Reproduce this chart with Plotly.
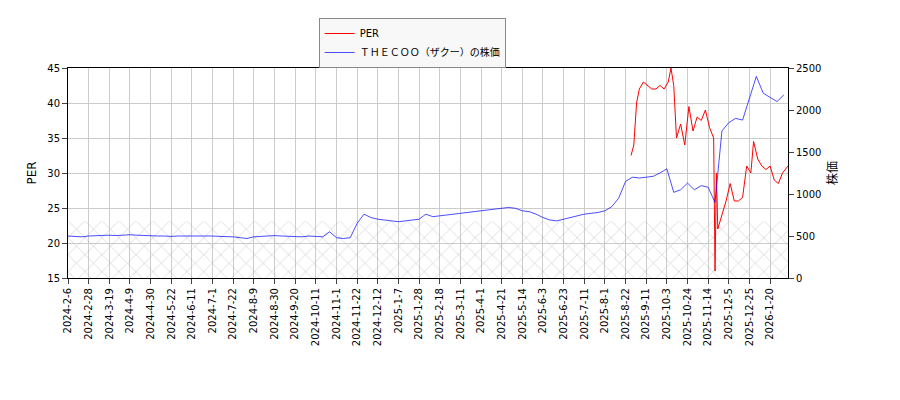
import plotly.graph_objects as go

tick_labels = ['2024-2-6', '2024-2-28', '2024-3-19', '2024-4-9', '2024-4-30', '2024-5-22',
               '2024-6-11', '2024-7-1', '2024-7-22', '2024-8-9', '2024-8-30', '2024-9-20',
               '2024-10-11', '2024-11-1', '2024-11-22', '2024-12-12', '2025-1-7', '2025-1-28',
               '2025-2-18', '2025-3-11', '2025-4-1', '2025-4-21', '2025-5-14', '2025-6-3',
               '2025-6-23', '2025-7-11', '2025-8-1', '2025-8-22', '2025-9-11', '2025-10-3',
               '2025-10-24', '2025-11-14', '2025-12-5', '2025-12-25', '2026-1-20']
tick_idx = [i * 15 for i in range(len(tick_labels))]

price_idx = list(range(0, 525, 5))
price = [500, 495, 490, 500, 505, 505, 510, 505, 510, 515, 510, 505, 505, 500, 500, 495,
         500, 500, 505, 500, 500, 500, 495, 495, 490, 480, 470, 490, 495, 500, 505, 500,
         495, 495, 490, 500, 495, 490, 550, 480, 470, 480,
         650, 760, 720, 700, 690, 680, 670, 680, 690, 700,
         760, 730, 740, 750, 760, 770, 780, 790, 800, 810, 820, 830, 840, 830,
         800, 790, 760, 720, 690, 680, 700, 720, 740, 760, 770, 780,
         800, 850, 950, 1150, 1200, 1190, 1200, 1210, 1250, 1300, 1020, 1050, 1130, 1050,
         1100, 1080, 900, 1750, 1850, 1900, 1880, 2150, 2400, 2200, 2150, 2100, 2180]

per_idx = [409, 411, 413, 415, 418, 421, 424, 427, 430, 433, 436, 438, 440, 442, 445, 448,
           451, 454, 457, 460, 463, 466, 469, 470, 471, 472, 475, 478, 481, 484, 487, 490,
           493, 496, 498, 501, 504, 507, 510, 513, 516, 519, 523]
per = [32.5, 34, 40, 42, 43, 42.5, 42, 42, 42.5, 42, 43, 45, 42.5, 35, 37, 34,
       39.5, 36, 38, 37.5, 39, 36.5, 35, 16, 30, 22, 24, 26, 28.5, 26, 26, 26.5,
       31, 30, 34.5, 32, 31, 30.5, 31, 29, 28.5, 30, 31]

fig = go.Figure()
fig.add_trace(go.Scatter(x=[0, 523, 523, 0, 0], y=[15, 15, 23.1, 23.1, 15], mode='none',
                         fill='toself', fillcolor='rgba(0,0,0,0)',
                         fillpattern=dict(shape='x', fgcolor='#999999', size=12, solidity=0.1),
                         showlegend=False, hoverinfo='skip'))
fig.add_trace(go.Scatter(x=per_idx, y=per, mode='lines', name='PER',
                         line=dict(color='red', width=1)))
fig.add_trace(go.Scatter(x=price_idx, y=price, mode='lines', name='ＴＨＥＣＯＯ（ザクー）の株価',
                         line=dict(color='blue', width=0.7), yaxis='y2'))

font = 'DejaVu Sans, Noto Sans CJK JP'
fig.update_layout(
    width=900, height=400, plot_bgcolor='white', paper_bgcolor='white',
    margin=dict(l=60, r=120, t=60, b=130, autoexpand=False),
    font=dict(family=font, size=10, color='black'),
    legend=dict(x=0.478, y=0.975, xanchor='center', yanchor='top', yref='container',
                bordercolor='#888', borderwidth=1, bgcolor='#f8f8f8'),
    xaxis=dict(range=[0, 523], tickvals=tick_idx, ticktext=tick_labels, tickangle=-90,
               showgrid=True, gridcolor='#cccccc', showline=True, linecolor='black',
               mirror=True, ticks='outside', zeroline=False, automargin=False),
    yaxis=dict(title=dict(text='PER', standoff=8), range=[15, 45], dtick=5, showgrid=True,
               gridcolor='#cccccc', showline=True, linecolor='black', ticks='outside',
               zeroline=False, automargin=False),
    yaxis2=dict(title=dict(text='株価', standoff=8), range=[0, 2500], dtick=500, overlaying='y',
                side='right', showgrid=False, showline=True, linecolor='black',
                ticks='outside', zeroline=False, automargin=False),
)
fig.write_html('out.html')
